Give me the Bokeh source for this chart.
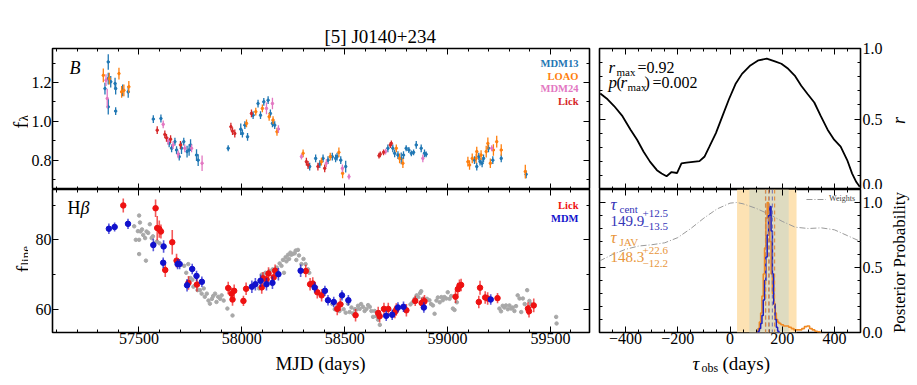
import numpy as np
from bokeh.plotting import figure
from bokeh.layouts import row, column
from bokeh.models import (LinearAxis, SingleIntervalTicker, FixedTicker, Label, Span, BoxAnnotation,
                          Range1d, Legend, LegendItem, PrintfTickFormatter)
from bokeh.embed import file_html
from bokeh.resources import INLINE

FONT = "Liberation Serif"

# ---------------- B-band continuum (MJD, flux, err) ----------------
mdm13_mjd = [57335, 57351, 57351, 57351, 57363, 57384, 57387, 57387, 57421, 57448,
             57570, 57607, 57647, 57659, 57675, 57683, 57696, 57707, 57718, 57734, 57744, 57751, 57780, 57788,
             57934, 57995, 58003, 58015, 58028, 58055, 58079, 58091, 58107, 58128, 58139, 58149, 58160,
             58330, 58359, 58379, 58395, 58419, 58440, 58456, 58463, 58481, 58505,
             58710, 58734, 58743, 58759, 58775, 58786, 58799, 58812, 58824, 58835, 58848, 58872, 58888, 58896,
             59131, 59142, 59152, 59158, 59168, 59175, 59199, 59220, 59261, 59382]
mdm13_f = [1.169, 1.306, 1.22, 1.075, 1.204, 1.195, 1.169, 1.053, 1.16, 1.152,
           1.012, 1.015, 0.887, 0.862, 0.896, 0.853, 0.819, 0.862, 0.896, 0.845, 0.853, 0.879, 0.827, 0.801,
           0.862, 0.96, 0.938, 0.981, 0.921, 1.032, 1.092, 1.032, 1.101, 1.109, 1.041, 0.99, 0.981,
           0.768, 0.81, 0.78, 0.81, 0.801, 0.819, 0.81, 0.819, 0.801, 0.768,
           0.862, 0.862, 0.836, 0.827, 0.81, 0.827, 0.862, 0.853, 0.836, 0.841, 0.879, 0.862, 0.836, 0.831,
           0.801, 0.768, 0.819, 0.793, 0.785, 0.81, 0.862, 0.801, 0.81, 0.728]
mdm13_e = [0.03, 0.04, 0.03, 0.04, 0.03, 0.03, 0.03, 0.02, 0.03, 0.03,
           0.02, 0.02, 0.02, 0.02, 0.02, 0.02, 0.02, 0.03, 0.02, 0.03, 0.03, 0.03, 0.03, 0.03,
           0.015, 0.03, 0.02, 0.02, 0.02, 0.02, 0.02, 0.02, 0.02, 0.02, 0.02, 0.02, 0.02,
           0.02, 0.02, 0.02, 0.02, 0.02, 0.02, 0.02, 0.02, 0.02, 0.03,
           0.02, 0.02, 0.02, 0.02, 0.03, 0.02, 0.015, 0.015, 0.015, 0.015, 0.02, 0.02, 0.02, 0.015,
           0.02, 0.02, 0.02, 0.02, 0.02, 0.02, 0.02, 0.02, 0.02, 0.02]

loao_mjd = [57327, 57356, 57403, 57416, 57427, 57451, 58023, 58068, 58100, 58133, 58152, 58171,
            58298, 58387, 58430, 58472, 58490, 58751, 58767, 58783,
            59099, 59107, 59120, 59139, 59142, 59163, 59188, 59196, 59208, 59223, 59239, 59261, 59378]
loao_f = [1.237, 1.22, 1.246, 1.152, 1.16, 1.178, 0.99, 1.05, 1.067, 1.024, 1.007, 0.947,
          0.836, 0.793, 0.819, 0.841, 0.733, 0.862, 0.81, 0.785,
          0.793, 0.776, 0.81, 0.81, 0.845, 0.827, 0.845, 0.887, 0.785, 0.853, 0.896, 0.853, 0.742]
loao_e = [0.035, 0.03, 0.03, 0.03, 0.03, 0.03, 0.02, 0.02, 0.02, 0.02, 0.02, 0.02,
          0.02, 0.02, 0.02, 0.025, 0.025, 0.02, 0.025, 0.025,
          0.025, 0.025, 0.025, 0.025, 0.025, 0.025, 0.03, 0.03, 0.025, 0.03, 0.03, 0.03, 0.035]

mdm24_mjd = [57340, 57346, 57618, 57642, 57666, 57691, 57723, 57756, 57807, 58120, 58149, 58178,
             58290, 58411, 58489, 58521, 58699, 58880, 59215]
mdm24_f = [1.212, 1.118, 0.985, 0.899, 0.878, 0.831, 0.862, 0.862, 0.785, 1.067, 1.092, 0.961,
           0.819, 0.785, 0.759, 0.716, 0.845, 0.81, 0.862]
mdm24_e = [0.03, 0.05, 0.02, 0.02, 0.02, 0.02, 0.02, 0.02, 0.04, 0.03, 0.03, 0.02,
           0.015, 0.02, 0.02, 0.015, 0.015, 0.02, 0.015]

lickB_mjd = [57589, 57626, 57634, 57654, 57702, 57947, 57955, 57966, 58047,
             58314, 58322, 58370, 58403, 58667, 58673, 58689, 58722, 58727]
lickB_f = [0.955, 0.933, 0.916, 0.909, 0.879, 0.973, 0.95, 0.938, 1.041,
           0.793, 0.776, 0.768, 0.759, 0.824, 0.831, 0.841, 0.879, 0.887]
lickB_e = [0.02, 0.02, 0.02, 0.02, 0.02, 0.02, 0.02, 0.02, 0.02,
           0.02, 0.02, 0.02, 0.02, 0.015, 0.015, 0.015, 0.015, 0.015]

# ---------------- H-beta line light curve ----------------
lickH_mjd = [57424, 57581, 57589, 57599, 57607, 57628, 57662, 57683, 57741, 57782,
             57934, 57950, 57955, 57963, 58008, 58021, 58097, 58103, 58120, 58130, 58155, 58162,
             58311, 58332, 58345, 58367, 58388, 58464, 58479, 58553,
             58663, 58670, 58691, 58712, 58744, 58751, 58800, 58843, 58874, 58883, 58888,
             59039, 59050, 59058, 59066, 59152, 59158, 59183, 59195, 59243, 59391, 59396, 59419]
lickH_f = [89.9, 89.1, 83.4, 83.1, 82.4, 71.3, 79.3, 74.0, 67.6, 67.1,
           66.1, 64.5, 62.8, 65.3, 62.4, 65.9, 66.3, 68.9, 68.6, 70.3, 69.2, 71.1,
           71.0, 67.2, 67.4, 64.9, 64.0, 60.1, 61.4, 58.3,
           58.9, 58.0, 60.1, 60.1, 59.2, 59.9, 59.7, 62.4, 61.8, 62.1, 62.3,
           63.6, 65.8, 66.8, 67.0, 62.1, 66.2, 63.4, 63.1, 63.2, 60.2, 59.4, 61.1]
lickH_e = [2.0, 2.5, 3.5, 2.5, 2.0, 2.0, 3.5, 2.0, 2.0, 2.0,
           1.8, 1.8, 1.8, 1.8, 1.5, 1.8, 1.8, 1.8, 1.8, 1.8, 1.8, 1.8,
           1.8, 1.8, 1.8, 1.8, 1.8, 1.8, 1.8, 1.8,
           1.8, 1.8, 1.8, 1.8, 1.8, 1.8, 1.8, 1.5, 1.5, 1.5, 1.8,
           1.8, 1.8, 1.8, 1.8, 1.8, 2.0, 1.8, 1.8, 1.5, 1.8, 1.8, 2.0]

mdmH_mjd = [57354, 57382, 57447, 57570, 57620, 57618, 57688, 57698, 57734, 57759, 57780, 57806,
            58049, 58066, 58091, 58120, 58149, 58178, 58286, 58354, 58404, 58419, 58447, 58487, 58518,
            58702, 58731, 58759, 58786, 58885, 59210]
mdmH_f = [83.2, 83.7, 84.6, 78.5, 78.1, 73.4, 73.0, 73.0, 66.9, 71.6, 69.6, 67.9,
          66.5, 67.2, 68.2, 67.2, 67.6, 70.1, 71.1, 66.3, 65.3, 62.6, 62.1, 64.0, 62.6,
          58.1, 58.4, 60.5, 60.7, 60.5, 62.8]
mdmH_e = [1.5, 1.3, 1.5, 1.8, 1.8, 1.5, 1.5, 1.5, 1.8, 1.5, 1.5, 1.5,
          1.8, 1.8, 1.8, 1.8, 1.8, 1.8, 1.8, 1.5, 1.5, 1.5, 1.5, 1.5, 1.5,
          1.5, 1.5, 1.5, 1.5, 1.5, 1.5]

# shifted & scaled continuum (grey)
grey_mjd = [57477, 57485, 57495, 57501, 57501, 57501, 57505, 57508, 57515, 57521, 57530, 57534, 57537,
            57545, 57553, 57562, 57568, 57575, 57588, 57600,
            57720, 57730, 57740, 57750, 57760, 57765, 57775, 57785, 57796, 57805, 57815, 57820, 57830,
            57838, 57845, 57855, 57861, 57870, 57877, 57885, 57895, 57902, 57912, 57930, 57955,
            58084, 58097, 58105, 58115, 58125, 58135, 58150, 58160, 58170, 58184, 58193, 58200, 58205,
            58213, 58217, 58225, 58230, 58236, 58241, 58249, 58257, 58262, 58265, 58273, 58278, 58290,
            58300, 58310, 58322, 58328,
            58440, 58452, 58465, 58475, 58485, 58495, 58505, 58516, 58524, 58533, 58541, 58550, 58557,
            58565, 58573, 58580, 58589, 58597, 58606, 58614, 58622, 58630, 58638, 58646, 58654, 58662, 58671,
            58820, 58830, 58840, 58850, 58858, 58867, 58872, 58880, 58890, 58900, 58912, 58920, 58929,
            58937, 58946, 58953, 58962, 58970, 58977, 58985, 58994, 59001, 59010, 59018, 59026, 59034, 59045,
            59252, 59260, 59268, 59276, 59284, 59293, 59301, 59309, 59317, 59325, 59333, 59341, 59350,
            59358, 59366, 59375, 59387, 59398, 59405, 59528, 59530]
grey_f = [83.9, 80.0, 82.5, 87.0, 80.0, 75.9, 85.0, 82.4, 83.0, 81.4, 80.5, 74.0, 82.4,
          82.0, 84.5, 80.5, 81.0, 79.0, 79.5, 79.0,
          72.5, 70.5, 73.0, 69.0, 68.5, 66.5, 67.0, 65.5, 65.5, 64.5, 66.0, 63.6, 64.5,
          62.5, 61.6, 63.0, 63.8, 64.5, 62.1, 63.6, 63.0, 64.0, 62.5, 60.2, 58.2,
          66.0, 70.0, 69.5, 70.5, 68.5, 71.0, 71.5, 71.3, 72.0, 73.2, 72.5, 74.2, 70.5,
          75.0, 73.8, 75.7, 74.5, 76.3, 75.7, 76.0, 76.1, 76.9, 74.2, 77.1, 75.5, 73.0,
          74.5, 73.0, 71.5, 70.5,
          61.5, 60.0, 61.0, 59.5, 61.5, 60.0, 59.0, 61.6, 59.2, 60.5, 58.8, 60.0, 59.9,
          61.0, 60.1, 61.5, 60.7, 59.5, 60.1, 61.2, 60.7, 59.5, 57.8, 59.5, 58.0, 57.0, 55.5,
          61.4, 62.0, 63.0, 64.0, 63.5, 64.7, 65.2, 63.0, 62.5, 63.0, 62.6, 61.5, 61.1,
          58.7, 62.5, 63.4, 62.0, 63.5, 62.6, 63.5, 63.1, 64.9, 63.0, 63.8, 60.2, 59.8, 62.0,
          60.2, 59.4, 61.0, 60.5, 61.1, 60.0, 61.1, 60.2, 60.5, 59.5, 60.9, 64.0, 63.1,
          59.2, 63.1, 61.5, 65.5, 62.4, 61.5, 57.8, 55.9]

# ---------------- CCF ----------------
ccf_tau = [-497, -469, -444, -412, -381, -356, -331, -306, -280, -262, -243, -224, -203, -186,
           -167, -142, -117, -98, -79, -54, -29, -4, 21, 46, 78, 109, 141, 172, 197, 223, 248,
           273, 298, 323, 348, 374, 399, 424, 449, 468, 484, 497]
ccf_r = [0.681, 0.64, 0.592, 0.52, 0.424, 0.353, 0.268, 0.196, 0.137, 0.113, 0.094, 0.124, 0.117,
         0.185, 0.19, 0.196, 0.201, 0.232, 0.304, 0.40, 0.52, 0.64, 0.748, 0.82, 0.88, 0.916,
         0.928, 0.909, 0.892, 0.856, 0.808, 0.736, 0.676, 0.617, 0.52, 0.424, 0.353, 0.304,
         0.209, 0.113, 0.053, 0.02]

# ---------------- lag posteriors ----------------
cccd_tau = [105, 110, 115, 120, 125, 130, 135, 140, 145, 150, 155, 160, 165, 170, 175, 180, 185, 190]
cccd_p = [0.0, 0.01, 0.03, 0.07, 0.13, 0.25, 0.40, 0.58, 0.75, 0.90, 0.97, 0.78, 0.45, 0.22,
          0.10, 0.04, 0.01, 0.0]
jav_tau = [100, 105, 110, 115, 120, 125, 130, 135, 140, 145, 150, 155, 160, 165, 170, 175, 180,
           185, 190, 200, 210, 220, 230, 240, 250, 260, 270, 280, 290, 300, 310, 320, 330, 340, 350]
jav_p = [0.0, 0.01, 0.03, 0.08, 0.15, 0.28, 0.45, 0.65, 0.88, 1.0, 0.92, 0.70, 0.45, 0.30, 0.22,
         0.15, 0.10, 0.08, 0.07, 0.06, 0.05, 0.05, 0.04, 0.03, 0.02, 0.02, 0.02, 0.03, 0.045, 0.05,
         0.03, 0.02, 0.01, 0.005, 0.0]
w_tau = [-500, -450, -400, -350, -300, -250, -200, -150, -100, -50, 0, 25, 50, 100, 150, 200,
         250, 300, 350, 400, 450, 500]
w_val = [0.55, 0.60, 0.64, 0.665, 0.675, 0.69, 0.73, 0.80, 0.88, 0.95, 0.995, 1.0, 0.99, 0.955,
         0.91, 0.855, 0.81, 0.80, 0.805, 0.79, 0.745, 0.70]
cent_lines = [136.4, 149.9, 162.4]
jav_lines = [136.1, 148.3, 170.9]
band_outer = [27, 255]
band_inner = [74, 225]

# ---------------- helpers ----------------
def base_axis(ax):
    ax.axis_line_color = None
    ax.major_tick_out = 0
    ax.minor_tick_out = 0
    ax.major_tick_line_color = "black"
    ax.minor_tick_line_color = "black"
    ax.major_label_text_font = FONT
    ax.major_label_text_color = "black"


def label_axis(p, side, interval, nminor, fmt=None, over=None, standoff=1):
    ax = LinearAxis(ticker=SingleIntervalTicker(interval=interval, num_minor_ticks=nminor))
    base_axis(ax)
    ax.major_tick_in = 6
    ax.minor_tick_in = 3
    ax.major_label_text_font_size = "16px"
    ax.major_label_standoff = standoff
    if fmt:
        ax.formatter = PrintfTickFormatter(format=fmt)
    if over:
        ax.major_label_overrides = over
    p.add_layout(ax, side)
    return ax


def tick_axis(p, side, rng, interval, nminor):
    lo, hi = rng
    majors = [v for v in np.arange(np.ceil(lo / interval) * interval, hi + 1e-9, interval)]
    step = interval / nminor
    allm = np.arange(np.ceil(lo / step) * step, hi + 1e-9, step)
    minors = [float(v) for v in allm if min(abs(v - m) for m in majors) > step * 0.01]
    for ticks, length in [(majors, 6), (minors, 3)]:
        ax = LinearAxis(ticker=FixedTicker(ticks=[], minor_ticks=[float(t) for t in ticks]))
        base_axis(ax)
        ax.minor_tick_in = length
        ax.major_tick_in = 0
        ax.major_label_standoff = 0
        p.add_layout(ax, side)


def make_fig(w, h, xr, yr, bl, br, bt, bb):
    p = figure(width=w, height=h, x_range=Range1d(*xr), y_range=Range1d(*yr),
               output_backend="svg", toolbar_location=None,
               min_border_left=bl, min_border_right=br, min_border_top=bt, min_border_bottom=bb,
               x_axis_location=None, y_axis_location=None)
    p.xgrid.visible = False
    p.ygrid.visible = False
    p.outline_line_color = "black"
    p.outline_line_width = 1.6
    p.background_fill_color = "white"
    p.border_fill_color = "white"
    return p


def strip(w, h):
    p = figure(width=w, height=h, x_range=Range1d(0, 1), y_range=Range1d(0, 1),
               output_backend="svg", toolbar_location=None, min_border=0,
               x_axis_location=None, y_axis_location=None)
    p.xgrid.visible = False
    p.ygrid.visible = False
    p.outline_line_color = None
    p.border_fill_color = "white"
    p.background_fill_color = "white"
    return p


def lab(p, frame, X, Y, text, size, color="black", fstyle="normal", align="left",
        baseline="middle", angle=0.0):
    L, B = frame
    p.add_layout(Label(x=X - L, y=B - Y, x_units="screen", y_units="screen", text=text,
                       text_font=FONT, text_font_size=f"{size}px", text_color=color,
                       text_font_style=fstyle, text_align=align, text_baseline=baseline,
                       angle=angle))


XR = (57080, 59690)
TRX = (-500, 500)
C13, CLO, C24, CLI = "#1f77b4", "#ff7f0e", "#e377c2", "#d62728"

# ---------------- top-left: continuum ----------------
TLY = (0.65, 1.375)
tl = make_fig(563, 189, XR, TLY, 24, 2, 48, 0)
label_axis(tl, "left", 0.2, 2, fmt="%.1f", standoff=1)
tick_axis(tl, "right", TLY, 0.2, 2)
tick_axis(tl, "above", XR, 500, 5)
tick_axis(tl, "below", XR, 500, 5)
for m, f, e, c in [(mdm13_mjd, mdm13_f, mdm13_e, C13), (loao_mjd, loao_f, loao_e, CLO),
                   (mdm24_mjd, mdm24_f, mdm24_e, C24), (lickB_mjd, lickB_f, lickB_e, CLI)]:
    m = np.array(m, float); f = np.array(f); e = np.array(e)
    tl.segment(x0=m, y0=f - e, x1=m, y1=f + e, line_color=c, line_width=1.3)
    tl.scatter(m, f, size=2.5, color=c)
tl.title.text = "[5] J0140+234"
tl.title.text_font = FONT
tl.title.text_font_size = "19px"
tl.title.text_font_style = "normal"
tl.title.text_color = "black"
tl.title.align = "left"
tl.title.offset = 272
tl.title.standoff = 4
TLF = (52, 189)
lab(tl, TLF, 69, 67, "B", 18, fstyle="italic")
for i, (t, c) in enumerate([("MDM13", C13), ("LOAO", CLO), ("MDM24", C24), ("Lick", CLI)]):
    lab(tl, TLF, 578, 63 + i * 12.7, t, 10.5, color=c, fstyle="bold", align="right")

# ---------------- bottom-left: H-beta ----------------
BLY = (53.3, 94.5)
bl = make_fig(563, 161, XR, BLY, 24, 2, 0, 18)
label_axis(bl, "left", 20, 2, standoff=1)
label_axis(bl, "below", 500, 5, standoff=0)
tick_axis(bl, "right", BLY, 20, 2)
tick_axis(bl, "above", XR, 500, 5)
bl.scatter(grey_mjd, grey_f, size=3.5, color="#a8a8a8")
for m, f, e, c in [(lickH_mjd, lickH_f, lickH_e, "#ee1111"), (mdmH_mjd, mdmH_f, mdmH_e, "#1111cc")]:
    m = np.array(m, float); f = np.array(f); e = np.array(e)
    bl.segment(x0=m, y0=f - e, x1=m, y1=f + e, line_color=c, line_width=1.6, line_alpha=0.7)
    bl.scatter(m, f, size=5.5, color=c)
BLF = (52, 332)
lab(bl, BLF, 67, 207, "H", 18)
lab(bl, BLF, 80, 207, "β", 18, fstyle="italic")
lab(bl, BLF, 578, 205, "Lick", 10.5, color="#ee1111", fstyle="bold", align="right")
lab(bl, BLF, 578, 218, "MDM", 10.5, color="#1111cc", fstyle="bold", align="right")

# ---------------- top-right: CCF ----------------
TRY = (0.0, 1.0)
tr = make_fig(294, 189, TRX, TRY, 8, 23, 48, 0)
label_axis(tr, "right", 0.5, 5, fmt="%.1f", standoff=2)
tick_axis(tr, "left", TRY, 0.5, 5)
tick_axis(tr, "above", TRX, 200, 4)
tick_axis(tr, "below", TRX, 200, 4)
tr.line(ccf_tau, ccf_r, line_color="black", line_width=1.8)
TRF = (599, 189)
lab(tr, TRF, 608, 67, "r", 17, fstyle="italic")
lab(tr, TRF, 616, 71, "max", 11)
lab(tr, TRF, 637, 67, "=0.92", 16)
lab(tr, TRF, 608, 82, "p", 17, fstyle="italic")
lab(tr, TRF, 616, 82, "(", 16)
lab(tr, TRF, 620, 82, "r", 17, fstyle="italic")
lab(tr, TRF, 627, 86, "max", 11)
lab(tr, TRF, 644, 82, ")", 16)
lab(tr, TRF, 652, 82, "=0.002", 16)

# ---------------- bottom-right: posteriors ----------------
BRY = (0.0, 1.1)
br = make_fig(294, 161, TRX, BRY, 8, 23, 0, 18)
label_axis(br, "below", 200, 4, standoff=0,
           over={-400: "−400", -200: "−200", 0: "0", 200: "200", 400: "400"})
label_axis(br, "right", 0.5, 5, fmt="%.1f", standoff=2)
tick_axis(br, "left", BRY, 0.5, 5)
tick_axis(br, "above", TRX, 200, 4)
br.add_layout(BoxAnnotation(left=band_outer[0], right=band_outer[1], fill_color="#fde2b3",
                            fill_alpha=1.0, line_color=None, level="underlay"))
br.add_layout(BoxAnnotation(left=band_inner[0], right=band_inner[1], fill_color="#dedbc0",
                            fill_alpha=1.0, line_color=None, level="underlay"))
wr = br.line(w_tau, w_val, line_color="#9a9a9a", line_width=1.0, line_dash="6 2 1 2")
br.step(jav_tau, jav_p, mode="center", line_color="#f08a24", line_width=1.6)
br.step(cccd_tau, cccd_p, mode="center", line_color="#2020c0", line_width=1.5)
for v in cent_lines:
    br.add_layout(Span(location=v, dimension="height", line_color="#6a6ab0", line_dash="4 3",
                       line_width=1.2, line_alpha=0.8))
for v in jav_lines:
    br.add_layout(Span(location=v, dimension="height", line_color="#e08a3a", line_dash="4 3",
                       line_width=1.2, line_alpha=0.9))
leg = Legend(items=[LegendItem(label="Weights", renderers=[wr])], location="top_right",
             label_text_font=FONT, label_text_font_size="8px", border_line_color=None,
             background_fill_alpha=0.0, glyph_width=20, glyph_height=8, label_standoff=3,
             padding=2, margin=5, label_height=8)
br.add_layout(leg)
BRF = (599, 332)
CB, CO = "#3434b8", "#e8963c"
lab(br, BRF, 610, 204, "τ", 17, color=CB, fstyle="italic")
lab(br, BRF, 619, 208, "cent", 11, color=CB)
lab(br, BRF, 610, 220, "149.9", 15, color=CB)
lab(br, BRF, 642, 213, "+12.5", 11, color=CB)
lab(br, BRF, 642, 226, "−13.5", 11, color=CB)
lab(br, BRF, 610, 237, "τ", 17, color=CO, fstyle="italic")
lab(br, BRF, 619, 241, "JAV", 11, color=CO)
lab(br, BRF, 610, 256, "148.3", 15, color=CO)
lab(br, BRF, 642, 250, "+22.6", 11, color=CO)
lab(br, BRF, 642, 263, "−12.2", 11, color=CO)

# ---------------- label strips ----------------
ls = strip(28, 350)
LSF = (0, 350)
lab(ls, LSF, 20, 128, "f", 20, angle=np.pi / 2, baseline="alphabetic")
lab(ls, LSF, 24, 121, "λ", 14, angle=np.pi / 2, baseline="alphabetic")
lab(ls, LSF, 23, 272, "f", 20, angle=np.pi / 2, baseline="alphabetic")
lab(ls, LSF, 24.5, 265, "line", 13, angle=np.pi / 2, baseline="alphabetic")

rs = strip(30, 350)
RSF = (885, 350)
lab(rs, RSF, 898, 120, "r", 18, fstyle="italic", align="center", angle=np.pi / 2,
    baseline="alphabetic")
lab(rs, RSF, 899, 262, "Posterior Probability", 17, align="center", angle=np.pi / 2,
    baseline="alphabetic")

bs = strip(915, 27)
BSF = (0, 377)
lab(bs, BSF, 320, 363, "MJD (days)", 19, align="center", baseline="alphabetic")
lab(bs, BSF, 692, 363, "τ", 19, fstyle="italic", baseline="alphabetic")
lab(bs, BSF, 701, 367, "obs", 12, baseline="alphabetic")
lab(bs, BSF, 722, 363, "(days)", 19, baseline="alphabetic")

layout = column(row(ls, column(tl, bl), column(tr, br), rs), bs)
open("out.html", "w").write(file_html(layout, INLINE))
